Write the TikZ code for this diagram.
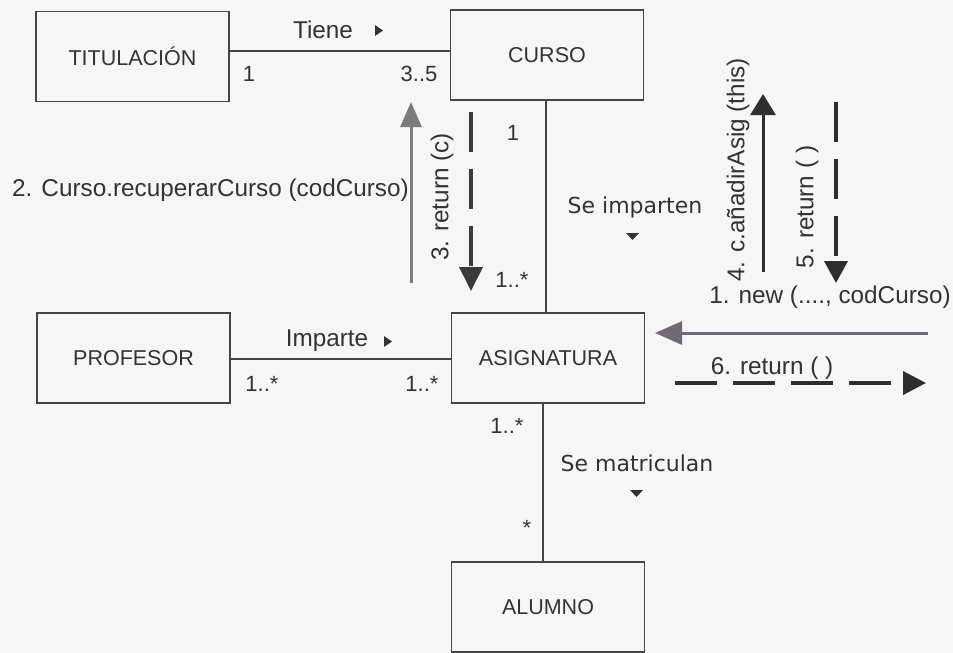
\documentclass[tikz,border=0pt]{standalone}
\usepackage{fontspec}
\setmainfont{Liberation Sans}
\newfontfamily\dvs{DejaVu Sans}
\usetikzlibrary{arrows.meta}
\definecolor{ink}{HTML}{333333}
\definecolor{boxline}{HTML}{454545}
\definecolor{bg}{HTML}{F6F6F6}
\definecolor{graya}{HTML}{7C7C7C}
\definecolor{grayb}{HTML}{716A74}
\definecolor{darka}{HTML}{2E2E2E}
\tikzset{
  classbox/.style={draw=boxline, line width=1.5pt, minimum width=193pt, minimum height=90pt, inner sep=0pt, text=ink, font=\fontsize{21.5}{25}\selectfont},
  assoc/.style={draw=boxline, line width=1.1pt},
  lbl/.style={text=ink, font=\fontsize{24.3}{28}\selectfont, inner sep=0pt},
  mult/.style={text=ink, font=\fontsize{22}{26}\selectfont, inner sep=0pt},
  dlbl/.style={text=ink, font=\dvs\fontsize{22}{26}\selectfont, inner sep=0pt},
  solidmsg/.style={line width=3pt},
  dashmsg/.style={line width=4pt, dash pattern=on 40pt off 17pt},
}
\begin{document}
\begin{tikzpicture}[x=1pt,y=-1pt]
\useasboundingbox[fill=bg] (0,0) rectangle (953,653);
% classes
\node[classbox] (tit) at (132.5,56.5) {TITULACIÓN};
\node[classbox] (cur) at (547,55) {CURSO};
\node[classbox] (prof) at (133.5,358) {PROFESOR};
\node[classbox] (asig) at (548,358) {ASIGNATURA};
\node[classbox] (alu) at (548,607) {ALUMNO};
% associations
\draw[assoc] (tit.east |- 0,51) -- (cur.west |- 0,51);
\draw[assoc] (prof.east |- 0,359) -- (asig.west |- 0,359);
\draw[assoc] (cur.south -| 546,0) -- (asig.north -| 546,0);
\draw[assoc] (asig.south -| 543,0) -- (alu.north -| 543,0);
% association labels
\node[lbl] (tiene) at (323,30) {Tiene};
\fill[ink] (375,25) -- ++(8,5.5) -- ++(-8,5.5) -- cycle;
\node[lbl] (imparte) at (327,341) {Imparte};
\fill[ink] (384,336) -- ++(8,5.5) -- ++(-8,5.5) -- cycle;
\node[dlbl] (seimp) at (635,207) {Se imparten};
\fill[ink] (626,233) -- ++(13,0) -- ++(-6.5,7) -- cycle;
\node[dlbl] (semat) at (637,463) {Se matriculan};
\fill[ink] (630,490) -- ++(13,0) -- ++(-6.5,7) -- cycle;
% multiplicities
\node[mult] (m1) at (249,74) {1};
\node[mult] (m2) at (419,74) {3..5};
\node[mult] (m3) at (262,384) {1..*};
\node[mult] (m4) at (422,384) {1..*};
\node[mult] (m5) at (513,133) {1};
\node[mult] (m6) at (512,280) {1..*};
\node[mult] (m7) at (507,426) {1..*};
\node[mult] (m8) at (527,528) {*};
% messages
\coordinate (a2s) at (411,283);
\coordinate (a2e) at (411,102);
\draw[solidmsg, graya, -{Triangle[length=25pt,width=21pt]}] (a2s) -- (a2e);
\node[lbl, anchor=east] (l2) at (409,190) {2. Curso.recuperarCurso (codCurso)};
\coordinate (a3s) at (471,112);
\coordinate (a3e) at (471,291);
\draw[dashmsg, darka!85!gray, -{Triangle[length=24pt,width=23pt]}] (a3s) -- (a3e);
\node[lbl, rotate=90] (l3) at (442,197) {3. return (c)};
\coordinate (a4s) at (763,272);
\coordinate (a4e) at (763,94);
\draw[solidmsg, darka, -{Triangle[length=21pt,width=25pt]}] (a4s) -- (a4e);
\node[lbl, rotate=90] (l4) at (738,170) {4. c.añadirAsig (this)};
\coordinate (a5s) at (836,102);
\coordinate (a5e) at (836,283);
\draw[dashmsg, darka, -{Triangle[length=22pt,width=23pt]}] (a5s) -- (a5e);
\node[lbl, rotate=90] (l5) at (807,207) {5. return ( )};
\coordinate (a1s) at (928,333);
\coordinate (a1e) at (655,333);
\draw[solidmsg, grayb, -{Triangle[length=27pt,width=23pt]}] (a1s) -- (a1e);
\node[lbl] (l1) at (830,297) {1. new (...., codCurso)};
\coordinate (a6s) at (675,383);
\coordinate (a6e) at (926,383);
\draw[dashmsg, dash pattern=on 42pt off 16pt, darka, -{Triangle[length=23pt,width=23pt]}] (a6s) -- (a6e);
\node[lbl] (l6) at (772,368) {6. return ( )};
\end{tikzpicture}
\end{document}
